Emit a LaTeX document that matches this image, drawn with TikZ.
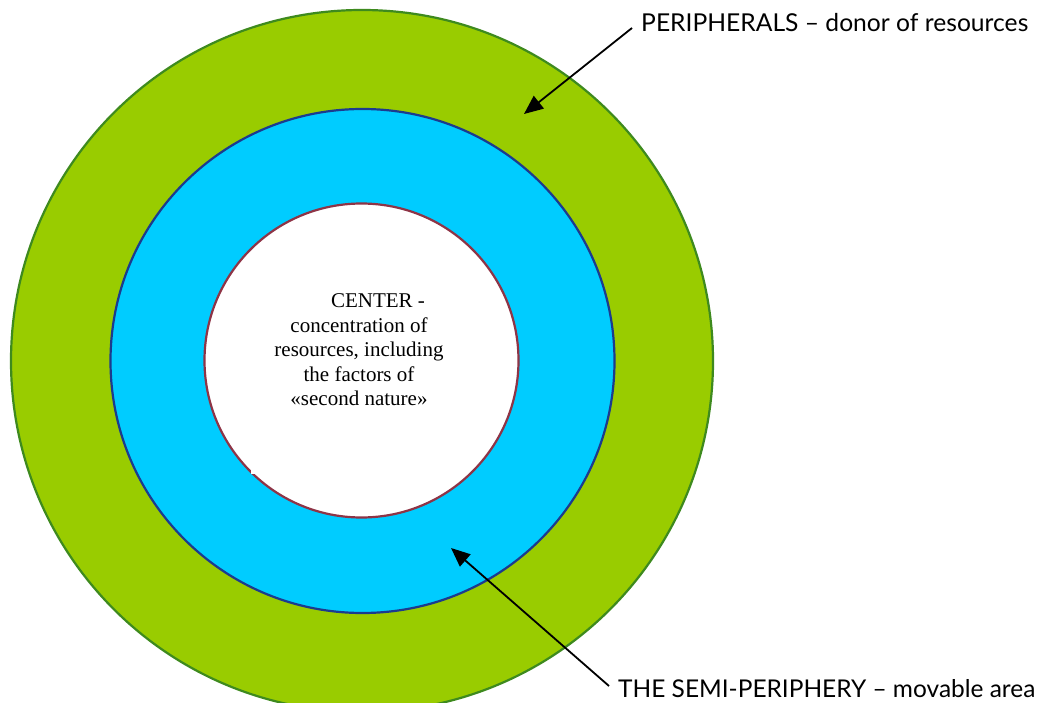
\documentclass[tikz,border=0pt]{standalone}
\usepackage{fontspec}
\setmainfont{Liberation Serif}
\newfontfamily\labelfont{Lato}
\usetikzlibrary{arrows.meta}
\definecolor{ringgreen}{HTML}{99CC00}
\definecolor{ringgreenline}{HTML}{3E8A1E}
\definecolor{ringblue}{HTML}{00CCFF}
\definecolor{ringblueline}{HTML}{1C3B8E}
\definecolor{coreline}{HTML}{8E3446}
\tikzset{
  ring/.style={line width=2.2pt},
  pointer/.style={line width=1.8pt, -{Triangle[length=19pt,width=16pt]}},
  sidelabel/.style={inner sep=0pt, font=\labelfont},
  coretext/.style={align=center, inner sep=0pt, font=\fontsize{21}{24.5}\selectfont}
}
\begin{document}
\begin{tikzpicture}[x=1pt,y=-1pt]
\useasboundingbox (0,0) rectangle (1044,703);
\fill[white] (0,0) rectangle (1044,703);
\begin{scope}
\clip (0,0) rectangle (1044,703);
\node[draw=ringgreenline, fill=ringgreen, ring, circle, minimum size=702pt, inner sep=0pt] (outer) at (362,361) {};
\end{scope}
\node[draw=ringblueline, fill=ringblue, ring, circle, minimum size=504pt, inner sep=0pt] (middle) at (362.5,361) {};
\node[draw=coreline, fill=white, ring, circle, minimum size=314pt, inner sep=0pt] (core) at (361.5,360.5) {};
\fill[white] (251,252) rectangle (468,474);
\node[coretext] (coretxt) at (359,350) {\hspace*{38pt}CENTER -\\concentration of\\resources, including\\the factors of\\«second nature»};
\node[sidelabel, anchor=base west] (peri) at (641,32) {\resizebox{387pt}{!}{PERIPHERALS – donor of resources}};
\node[sidelabel, anchor=base west] (semi) at (618,697.5) {\resizebox{417pt}{!}{THE SEMI-PERIPHERY – movable area}};
\coordinate (periTail) at (632,28);
\coordinate (periTip) at (524,114);
\coordinate (semiTail) at (609,686);
\coordinate (semiTip) at (451,548);
\draw[pointer] (periTail) -- (periTip);
\draw[pointer] (semiTail) -- (semiTip);
\end{tikzpicture}
\end{document}
